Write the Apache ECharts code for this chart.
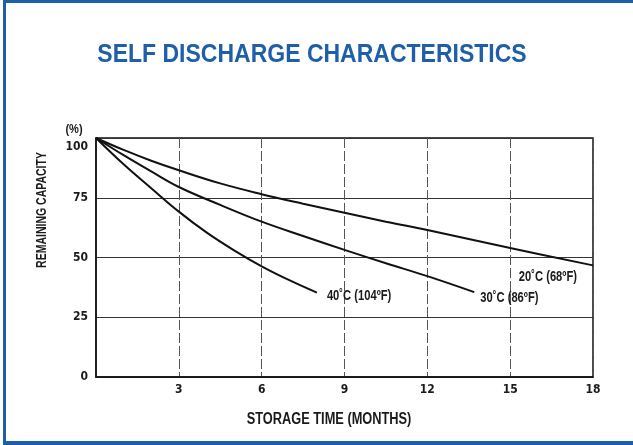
<!DOCTYPE html>
<html>
<head>
<meta charset="utf-8">
<script src="https://cdn.jsdelivr.net/npm/echarts@6/dist/echarts.min.js"></script>
<style>
  html, body { margin: 0; padding: 0; background: #fff; overflow: hidden; }
  #frame {
    position: absolute; left: 3px; top: 0; width: 630px; height: 438px;
    border-top: 3px solid #1f5fa9; border-left: 3px solid #1f5fa9; border-bottom: 4px solid #1f5fa9;
  }
  #chart { position: absolute; left: 0; top: 0; width: 633px; height: 445px; }
</style>
</head>
<body>
<div id="frame"></div>
<div id="chart"></div>
<script>
// months / remaining capacity (%)
const curve20 = [[0, 100], [1, 95], [2, 90.5], [3, 86.5], [4.5, 81], [6, 76.5], [7.5, 72.5], [9, 68.7], [10.5, 65], [12, 61.5], [15, 54], [18, 46.7]];
const curve30 = [[0, 100], [1, 92.8], [2, 86], [3, 79.5], [4.5, 72], [6, 65], [7.5, 59], [9, 53.2], [10.5, 47.6], [12, 42.2], [13.7, 35.5]];
const curve40 = [[0, 100], [1, 89], [2, 79], [3, 69.2], [4, 60.5], [5, 53], [6, 46.3], [7, 40.5], [8, 35.3]];

const seriesNames = ["20˚C (68ºF)", "30˚C (86ºF)", "40˚C (104ºF)"];
const xTicks = [3, 6, 9, 12, 15, 18];
const yTicks = [0, 25, 50, 75, 100];

const FONT = '"Liberation Sans", Arial, sans-serif';
const AXFONT = '"DejaVu Sans Condensed", "Liberation Sans", sans-serif';
const INK = "#1a1a1a";
const BLUE = "#1f5fa9";

const chart = echarts.init(document.getElementById("chart"));

function curve(name, data) {
  return {
    name: name,
    type: "line",
    data: data,
    smooth: 0.4,
    showSymbol: false,
    lineStyle: { color: "#111", width: 2 },
    emphasis: { disabled: true },
    z: 5
  };
}

// bold text squeezed horizontally to look like Helvetica Condensed
function squeezed(text, x, y, size, sx, color, align, rot) {
  return {
    type: "text",
    x: x, y: y,
    scaleX: sx,
    rotation: rot || 0,
    style: {
      text: text, fill: color,
      font: "bold " + size + "px " + FONT,
      textAlign: align, textVerticalAlign: "middle"
    }
  };
}

chart.setOption({
  animation: false,
  grid: {
    left: 96, right: 40, top: 138, bottom: 68,
    show: true, borderColor: "#111", borderWidth: 1.5
  },
  xAxis: {
    type: "value",
    min: 0, max: 18, interval: 3,
    axisLine: { show: true, lineStyle: { color: "#111", width: 1.5 } },
    axisTick: { show: false },
    axisLabel: {
      color: INK, fontFamily: AXFONT, fontWeight: "bold", fontSize: 12, margin: 7,
      formatter: v => (xTicks.includes(v) ? String(v) : "")
    },
    splitLine: { show: true, lineStyle: { color: "#555", width: 1, type: [10, 3] } }
  },
  yAxis: {
    type: "value",
    min: 0, max: 100, interval: 25,
    axisLine: { show: true, lineStyle: { color: "#111", width: 1.5 } },
    axisTick: { show: false },
    axisLabel: {
      color: INK, fontFamily: AXFONT, fontWeight: "bold", fontSize: 12, margin: 8,
      formatter: v => {
        if (!yTicks.includes(v)) return "";
        // the top label sits a little below its line in the original
        return v === 100 ? "{low|" + v + "}" : String(v);
      },
      rich: {
        low: { fontFamily: AXFONT, fontWeight: "bold", fontSize: 12, color: INK, padding: [18, 0, 0, 0] }
      }
    },
    splitLine: { show: true, lineStyle: { color: "#333", width: 1 } }
  },
  series: [
    curve(seriesNames[0], curve20),
    curve(seriesNames[1], curve30),
    curve(seriesNames[2], curve40)
  ]
});

// curve labels anchored to the last point of each curve
const lastPoints = [curve20, curve30, curve40].map(c => c[c.length - 1]);
const labelShift = [[-16, 12, "right"], [6, 6, "left"], [10, 4, "left"]];
const curveLabels = lastPoints.map((pt, i) => {
  const p = chart.convertToPixel({ gridIndex: 0 }, pt);
  const s = labelShift[i];
  return squeezed(seriesNames[i], p[0] + s[0], p[1] + s[1], 14, 0.8, INK, s[2]);
});

chart.setOption({
  graphic: [
    squeezed("SELF DISCHARGE CHARACTERISTICS", 312, 55, 25, 0.92, BLUE, "center"),
    squeezed("STORAGE TIME (MONTHS)", 329, 420, 16, 0.8, INK, "center"),
    squeezed("REMAINING CAPACITY", 42, 210, 14, 0.75, INK, "center", Math.PI / 2),
    squeezed("(%)", 74, 129, 13, 0.85, INK, "center")
  ].concat(curveLabels)
});
</script>
</body>
</html>
